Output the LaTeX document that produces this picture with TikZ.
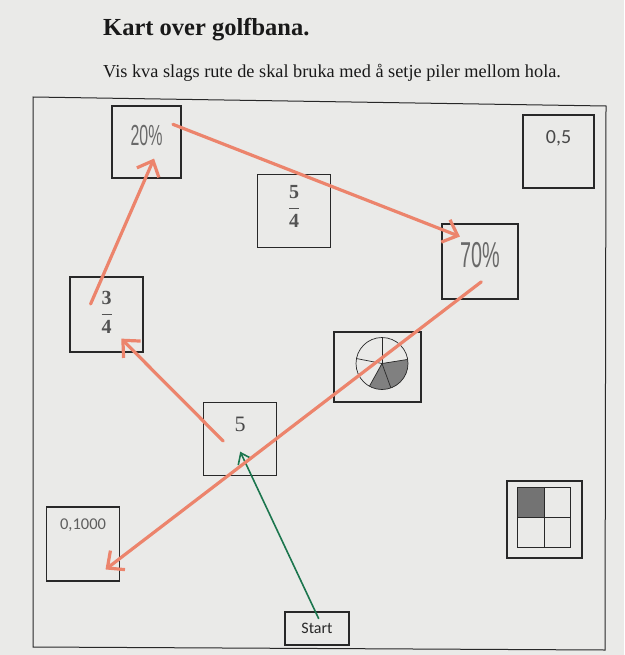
\documentclass[tikz,border=0pt]{standalone}
\usepackage{fontspec}
\setmainfont{Liberation Serif}
\newfontfamily\carlito{Carlito}
\newfontfamily\narrowsans[FakeStretch=0.55]{Liberation Sans}
\usetikzlibrary{arrows.meta,calc}
\definecolor{paper}{RGB}{234, 234, 232}
\definecolor{inkgray}{RGB}{40, 40, 40}
\definecolor{printgray}{RGB}{105, 105, 105}
\definecolor{penred}{RGB}{236, 132, 108}
\definecolor{pengreen}{RGB}{28, 118, 78}

\begin{document}
\begin{tikzpicture}[x=1pt, y=-1pt]
\tikzset{
  hole/.style={rectangle, draw=inkgray, line width=1.2pt, minimum width=73pt, minimum height=73pt, inner sep=0pt},
  pct/.style={font=\narrowsans\fontsize{29}{29}\selectfont, text=printgray, inner sep=0pt},
  num/.style={font=\carlito\fontsize{20}{20}\selectfont, text=inkgray!85, inner sep=0pt},
  frc/.style={font=\bfseries\fontsize{20}{20}\selectfont, text=inkgray!80, inner sep=0pt},
  pen/.style={draw=penred, line width=3.2pt, line cap=round, -{Straight Barb[length=13pt, width=24pt]}},
  greenpen/.style={draw=pengreen, line width=1.6pt, line cap=round, -{Straight Barb[length=10pt, width=15pt]}},
  pieline/.style={draw=inkgray, line width=0.7pt}
}
\fill[paper] (0,0) rectangle (624,655);
\useasboundingbox (0,0) rectangle (624,655);
\node[anchor=base west, inner sep=0pt, font=\bfseries\fontsize{24.5}{24.5}\selectfont, text=black!90] (title) at (103,36) {Kart over golfbana.};
\node[anchor=base west, inner sep=0pt, font=\fontsize{18.3}{18.3}\selectfont, text=black!90] (task) at (103,77.5) {Vis kva slags rute de skal bruka med å setje piler mellom hola.};
\draw[inkgray, line width=1pt] (33,97) -- (606,106) -- (605,650) -- (33,647) -- cycle;
\node[hole, minimum width=69pt, minimum height=72pt, label={[pct, yshift=6.5pt]center:{20\%}}] (p20) at (146.5,142) {};
\node[hole, minimum width=71pt, label={[num, yshift=13.5pt]center:{0,5}}] (h05) at (558.5,151.5) {};
\node[hole, label={[frc, yshift=4.5pt]center:{$\displaystyle\frac{\textbf{5}}{\textbf{4}}$}}] (f54) at (294,211) {};
\node[hole, minimum width=76pt, minimum height=75pt, label={[pct, font=\narrowsans\fontsize{36}{36}\selectfont, yshift=6.5pt]center:{70\%}}] (p70) at (480,261.5) {};
\node[hole, minimum height=75pt, label={[frc, yshift=2pt]center:{$\displaystyle\frac{\textbf{3}}{\textbf{4}}$}}] (f34) at (106.5,314.5) {};
\node[hole, minimum width=87pt, minimum height=70pt] (pie) at (377.5,367) {};
\node[hole, label={[num, font=\fontsize{22}{22}\selectfont, yshift=14.5pt]center:{5}}] (h5) at (240,439) {};
\node[hole, minimum height=74pt, label={[num, font=\carlito\fontsize{16.5}{16.5}\selectfont, text=inkgray!75, yshift=19pt]center:{0,1000}}] (h0) at (83,544) {};
\node[hole, minimum width=75pt, minimum height=77pt] (grid) at (544.5,519.5) {};
\node[hole, minimum width=64pt, minimum height=33pt, font=\carlito\fontsize{16}{16}\selectfont, text=inkgray] (start) at (317,628.5) {Start};
\coordinate (piec) at ([xshift=4.5pt, yshift=3.5pt]pie.center);
\fill[black!50] (piec) -- ++(241:26pt) arc[start angle=241, end angle=369, radius=26pt] -- cycle;
\draw[pieline] (piec) circle[radius=26pt];
\foreach \a in {90,169,241,290,9}
  \draw[pieline] (piec) -- ++(\a:26pt);
\node[minimum width=52pt, minimum height=59pt, inner sep=0pt] (gridin) at ([xshift=-0.5pt, yshift=2pt]grid.center) {};
\fill[black!55] (gridin.north west) rectangle (gridin.center);
\draw[inkgray, line width=0.9pt] (gridin.north west) rectangle (gridin.south east) (gridin.north) -- (gridin.south) (gridin.west) -- (gridin.east);
\draw[greenpen, shorten <=30pt, shorten >=55pt] (start.-50) -- (h5.122);
\draw[pen, shorten <=49.5pt, shorten >=73.5pt] (h5.-64) -- (f34.143);
\draw[pen, shorten <=53pt, shorten >=58pt] (f34.south west) -- (p20.50);
\draw[pen, shorten <=52pt, shorten >=63pt] (p20.121) -- (p70.3);
\draw[pen, shorten <=47pt, shorten >=20pt] (p70.12) -- (h0.-80);
\end{tikzpicture}
\end{document}
